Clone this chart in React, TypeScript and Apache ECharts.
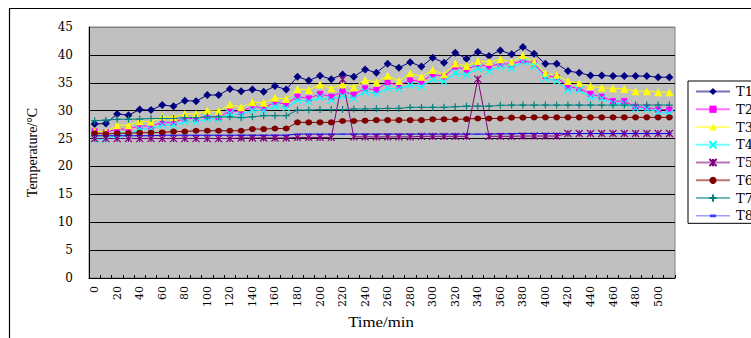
import React, { useEffect, useRef } from "react";
import * as echarts from "echarts";

const categories = [
  "0", "10", "20", "30", "40", "50", "60", "70", "80", "90",
  "100", "110", "120", "130", "140", "150", "160", "170", "180", "190",
  "200", "210", "220", "230", "240", "250", "260", "270", "280", "290",
  "300", "310", "320", "330", "340", "350", "360", "370", "380", "390",
  "400", "410", "420", "430", "440", "450", "460", "470", "480", "490",
  "500", "510",
];

const T1 = [
  27.6, 27.7, 29.4, 29.2, 30.2, 30.1, 31.0, 30.8, 31.8, 31.7,
  32.8, 32.8, 33.9, 33.5, 33.8, 33.4, 34.4, 33.8, 36.1, 35.4,
  36.25, 35.65, 36.5, 36.1, 37.4, 36.8, 38.4, 37.7, 38.7, 37.9,
  39.5, 38.6, 40.4, 39.3, 40.5, 39.8, 40.8, 40.1, 41.4, 40.2,
  38.4, 38.4, 37.1, 36.8, 36.3, 36.3, 36.2, 36.2, 36.2, 36.2,
  36.0, 36.0,
];
const T2 = [
  26.3, 26.1, 26.7, 26.7, 27.3, 27.2, 27.9, 27.9, 28.6, 28.6,
  29.0, 28.8, 30.0, 29.8, 30.8, 30.5, 31.5, 31.2, 32.5, 32.2,
  33.0, 32.5, 33.4, 32.9, 34.0, 33.7, 35.1, 34.5, 35.5, 35.2,
  36.5, 36.1, 37.9, 37.3, 38.3, 37.9, 38.45, 38.3, 39.0, 38.45,
  36.25, 36.0, 34.3, 34.0, 33.0, 32.5, 31.7, 31.7, 30.7, 30.6,
  30.2, 30.2,
];
const T3 = [
  26.3, 26.2, 27.4, 27.4, 28.1, 28.0, 28.9, 28.8, 29.4, 29.4,
  30.0, 29.9, 31.1, 30.6, 31.5, 31.4, 32.3, 32.1, 33.9, 33.7,
  34.7, 34.0, 34.75, 34.2, 35.5, 35.1, 36.25, 35.3, 36.7, 36.1,
  37.3, 36.5, 38.45, 38.0, 38.9, 38.75, 39.2, 38.75, 39.9, 38.75,
  36.7, 36.4, 35.3, 34.9, 34.4, 34.1, 34.0, 33.9, 33.5, 33.5,
  33.3, 33.3,
];
const T4 = [
  24.9, 24.9, 25.65, 25.65, 26.7, 26.7, 27.4, 27.4, 28.0, 28.0,
  28.6, 28.5, 29.5, 29.2, 30.1, 30.0, 30.8, 30.5, 31.9, 31.6,
  32.4, 31.9, 32.6, 32.2, 33.4, 33.0, 34.0, 33.9, 34.6, 34.3,
  35.6, 35.2, 36.7, 36.4, 37.6, 37.1, 37.9, 37.7, 38.75, 38.0,
  35.8, 35.3, 33.7, 33.7, 32.4, 32.2, 31.3, 31.3, 30.4, 30.3,
  29.8, 29.5,
];
const T5 = [
  25.0, 25.0, 25.0, 25.0, 25.0, 25.0, 25.0, 25.0, 25.0, 25.0,
  25.0, 25.0, 25.0, 25.1, 25.1, 25.1, 25.1, 25.1, 25.2, 25.2,
  25.2, 25.2, 35.6, 25.3, 25.3, 25.3, 25.3, 25.3, 25.3, 25.4,
  25.4, 25.4, 25.4, 25.4, 35.65, 25.4, 25.4, 25.4, 25.45, 25.45,
  25.45, 25.45, 25.9, 25.9, 25.9, 25.9, 25.9, 25.9, 25.9, 25.9,
  25.9, 25.9,
];
const T6 = [
  25.95, 25.8, 25.95, 25.95, 26.05, 26.05, 26.1, 26.25, 26.25, 26.4,
  26.4, 26.4, 26.4, 26.4, 26.7, 26.7, 26.8, 26.8, 27.9, 27.9,
  27.9, 27.9, 28.15, 28.15, 28.2, 28.3, 28.3, 28.3, 28.3, 28.3,
  28.45, 28.45, 28.45, 28.5, 28.6, 28.6, 28.6, 28.75, 28.75, 28.8,
  28.8, 28.8, 28.8, 28.8, 28.8, 28.8, 28.8, 28.8, 28.8, 28.8,
  28.8, 28.8,
];
const T7 = [
  28.2, 28.3, 28.45, 28.45, 28.5, 28.6, 28.6, 28.6, 28.75, 28.75,
  28.9, 28.9, 28.9, 28.75, 28.9, 29.1, 29.1, 29.1, 30.1, 30.1,
  30.2, 30.2, 30.2, 30.3, 30.3, 30.35, 30.4, 30.4, 30.6, 30.6,
  30.6, 30.6, 30.7, 30.8, 30.8, 30.8, 30.95, 31.0, 31.0, 31.0,
  31.0, 31.0, 31.0, 31.0, 31.0, 31.0, 31.0, 31.0, 31.0, 31.0,
  31.0, 31.0,
];
const T8 = [
  25.5, 25.5, 25.5, 25.5, 25.5, 25.5, 25.6, 25.6, 25.6, 25.6,
  25.6, 25.6, 25.6, 25.6, 25.6, 25.6, 25.6, 25.6, 25.8, 25.8,
  25.8, 25.8, 25.8, 25.8, 25.8, 25.8, 25.8, 25.8, 25.8, 25.8,
  25.8, 25.8, 25.8, 25.8, 25.8, 25.8, 25.85, 25.85, 25.9, 25.9,
  25.9, 25.9, 25.9, 25.9, 25.9, 25.9, 25.9, 25.9, 25.9, 25.9,
  25.9, 25.9,
];

const seriesNames = ["T1", "T2", "T3", "T4", "T5", "T6", "T7", "T8"];
const seriesData = [T1, T2, T3, T4, T5, T6, T7, T8];
const yTicks = [0, 5, 10, 15, 20, 25, 30, 35, 40, 45];
const yTitle = "Temperature/\u00B0C";
const xTitle = "Time/min";

const FONT = "'DejaVu Serif', 'Liberation Serif', serif";
const THIN = "'Liberation Serif', serif";

const styles = [
  { color: "#000080", symbol: "diamond", size: 8, stroke: false },
  { color: "#ff00ff", symbol: "rect", size: 6, stroke: false },
  { color: "#ffff00", symbol: "triangle", size: 8, stroke: false },
  { color: "#00ffff", symbol: "path://M0,0L10,10M10,0L0,10", size: 7, stroke: true },
  { color: "#800080", symbol: "path://M0,0L10,10M10,0L0,10M5,0L5,10", size: 7, stroke: true },
  { color: "#800000", symbol: "circle", size: [7, 6], stroke: false },
  { color: "#008080", symbol: "path://M5,0L5,10M0,5L10,5", size: 7, stroke: true },
  { color: "#0000ff", symbol: "path://M0,0L10,0L10,3L0,3Z", size: [6, 2], stroke: false },
];

// legend icon for the dash marker: thin line + short dash, same aspect as the item box
const dashLegendIcon = "path://M0,4.6L34,4.6L34,5.4L0,5.4Z M14,3.6L20,3.6L20,6.4L14,6.4Z";

export default function App() {
  const ref = useRef<HTMLDivElement>(null);
  useEffect(() => {
    if (!ref.current) return;
    const chart = echarts.init(ref.current, null, { renderer: "svg" });
    const splitColors = yTicks.map((v, i) => (i === yTicks.length - 1 ? "#808080" : "#000000"));
    chart.setOption({
      animation: false,
      backgroundColor: "#ffffff",
      grid: {
        left: 89,
        top: 27,
        right: 76,
        bottom: 60,
        show: true,
        backgroundColor: "#c0c0c0",
        borderColor: "#808080",
        borderWidth: 1,
      },
      legend: {
        orient: "vertical",
        left: 688,
        top: 81,
        padding: [4, 10, 1, 7],
        itemWidth: 34,
        itemHeight: 9,
        itemGap: 4.76,
        borderColor: "#000",
        borderWidth: 1,
        backgroundColor: "#fff",
        textStyle: {
          fontFamily: FONT,
          fontSize: 13,
          lineHeight: 13,
          color: "#000",
          padding: [0, 0, 0, 1],
        },
        lineStyle: { width: 2, opacity: 0.55 },
        data: seriesNames.map((n, i) =>
          i === 7 ? { name: n, icon: dashLegendIcon, itemStyle: { color: "#4040ff" } } : n
        ),
      },
      xAxis: {
        type: "category",
        data: categories,
        boundaryGap: true,
        axisLine: { show: true, lineStyle: { color: "#000", width: 1 } },
        axisTick: { show: true, inside: true, length: 3, interval: 0, lineStyle: { color: "#000" } },
        axisLabel: {
          interval: 1,
          rotate: 90,
          margin: 8,
          fontFamily: FONT,
          fontSize: 11,
          color: "#000",
        },
        splitLine: { show: false },
      },
      yAxis: {
        type: "value",
        min: 0,
        max: 45,
        interval: 5,
        axisLine: { show: true, lineStyle: { color: "#000", width: 1 } },
        axisTick: { show: false },
        axisLabel: { margin: 16, fontFamily: FONT, fontSize: 12, color: "#000" },
        splitLine: { show: true, lineStyle: { color: splitColors, width: 1 } },
      },
      graphic: [
        {
          type: "rect",
          shape: { x: 9.5, y: 8.5, width: 900, height: 500 },
          style: { fill: "none", stroke: "#000", lineWidth: 1.2 },
          silent: true,
          z: 100,
        },
        {
          type: "text",
          x: 32.5,
          y: 152.5,
          rotation: Math.PI / 2,
          style: {
            text: yTitle,
            font: "14px " + THIN,
            fill: "#000",
            textAlign: "center",
            textVerticalAlign: "middle",
          },
        },
        {
          type: "text",
          x: 381,
          y: 322,
          scaleX: 1.2,
          style: {
            text: xTitle,
            font: "14px " + THIN,
            fill: "#000",
            textAlign: "center",
            textVerticalAlign: "middle",
          },
        },
      ],
      series: seriesNames.map((name, i) => {
        const s = styles[i];
        return {
          name,
          type: "line",
          data: seriesData[i],
          symbol: s.symbol,
          symbolSize: s.size,
          symbolKeepAspect: true,
          showSymbol: true,
          showAllSymbol: true,
          lineStyle: { color: s.color, width: 1 },
          itemStyle: s.stroke
            ? { color: s.color, borderColor: s.color, borderWidth: 1.2 }
            : { color: s.color, borderWidth: 0 },
          emphasis: { disabled: true },
        };
      }),
    });
    return () => chart.dispose();
  }, []);
  return (
    <div
      style={{ position: "fixed", left: 0, top: 0, width: 751, height: 338, background: "#fff" }}
    >
      <div ref={ref} style={{ width: 751, height: 338 }} />
    </div>
  );
}
